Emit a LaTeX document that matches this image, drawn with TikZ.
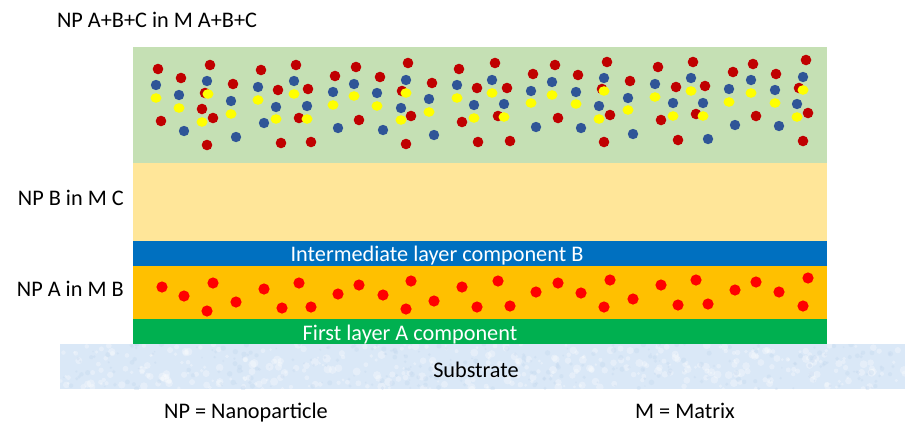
\documentclass[tikz,border=0pt]{standalone}
\usepackage{fontspec}
\setmainfont{Carlito}
\definecolor{topgreen}{HTML}{C5E0B4}
\definecolor{paleyellow}{HTML}{FFE699}
\definecolor{midblue}{HTML}{0070C0}
\definecolor{amber}{HTML}{FFC000}
\definecolor{leafgreen}{HTML}{00B050}
\definecolor{subblue}{HTML}{DAE8F7}
\definecolor{subshade}{HTML}{C3D7EE}
\definecolor{npred}{HTML}{C00000}
\definecolor{npblue}{HTML}{2F5597}
\definecolor{npyellow}{HTML}{FFFF00}
\definecolor{npbright}{HTML}{FF0000}

\begin{document}
\begin{tikzpicture}[x=0.75pt,y=-0.75pt,
                    every node/.style={font=\fontsize{16.7}{20}\selectfont,inner sep=0pt},
                    white text/.style={text=white}]
\useasboundingbox (0,0) rectangle (905,440);

% layers
\fill[topgreen] (133,47) rectangle (827,163);
\fill[paleyellow] (133,163) rectangle (827,241);
\fill[midblue] (133,241) rectangle (827,266);
\fill[amber] (133,266) rectangle (827,319);
\fill[leafgreen] (133,319) rectangle (827,344);

% substrate
\begin{scope}
\clip (60,344) rectangle (905,389);
\fill[subblue] (60,344) rectangle (905,389);
\pgfmathsetseed{7}
\foreach \i in {1,...,380}
  \fill[white,opacity=0.3] ({60+845*rnd},{344+45*rnd}) circle ({1.2+3*rnd});
\foreach \i in {1,...,300}
  \fill[subshade,opacity=0.35] ({60+845*rnd},{344+45*rnd}) circle ({0.8+2*rnd});
\end{scope}

% nanoparticles A+B+C
\foreach \x/\y in {158/69, 181/78, 210/65, 205/93, 202/109, 213/118, 161/121, 207/145,
  233/84, 261/70, 278/90, 296/65, 308/89, 299/118, 281/143, 311/142, 335/76, 356/67,
  380/77, 359/120, 402/91, 408/63, 411/116, 432/83, 406/144, 459/69, 477/88, 462/122,
  478/142, 495/63, 507/88, 498/116, 510/141, 533/74, 555/65, 558/118, 578/75, 607/62,
  602/89, 610/115, 604/142, 630/81, 658/67, 676/87, 693/62, 705/86, 661/120, 696/114,
  678/140, 733/72, 753/64, 776/74, 806/60, 799/88, 756/116, 808/113, 803/141}
  \fill[npred] (\x,\y) circle (5.3);
\foreach \x/\y in {156/85, 179/95, 207/81, 231/101, 184/131, 236/137, 258/87, 276/107,
  294/81, 307/106, 264/123, 333/92, 354/84, 377/93, 338/128, 383/130, 406/80, 401/108,
  429/99, 434/135, 457/85, 474/105, 492/80, 504/104, 531/91, 552/82, 536/127, 576/92,
  581/128, 604/78, 599/106, 628/98, 633/134, 655/84, 673/103, 691/78, 703/103, 708/139,
  729/89, 751/80, 735/125, 775/90, 779/126, 803/77, 797/104}
  \fill[npblue] (\x,\y) circle (5.2);
\foreach \x/\y in {156/98, 179/108, 208/94, 202/122, 231/114, 258/100, 276/119, 294/94,
  307/119, 333/105, 354/96, 377/106, 406/93, 401/120, 429/112, 457/98, 474/118, 492/93,
  504/117, 531/103, 552/95, 576/104, 604/91, 599/119, 628/110, 655/97, 673/116, 691/91,
  703/116, 729/102, 751/93, 775/103, 803/90, 797/117}
  \fill[npyellow] (\x,\y) circle[x radius=5.5,y radius=4.8];

% nanoparticles A
\foreach \x/\y in {162/287, 184/296, 213/283, 207/311, 236/302, 264/289, 299/283, 282/308,
  311/307, 338/294, 359/285, 383/295, 411/281, 406/309, 434/301, 462/287, 477/307,
  498/281, 510/306, 536/292, 558/283, 581/293, 610/280, 604/307, 633/299, 661/285,
  696/280, 678/305, 708/304, 735/290, 756/282, 779/292, 808/278, 803/306}
  \fill[npbright] (\x,\y) circle (5.6);

\node[anchor=base] (titleABC) at (157,27) {NP A+B+C in M A+B+C};
\node[anchor=base east] (labelB) at (124,205) {NP B in M C};
\node[anchor=base east] (labelA) at (124,296) {NP A in M B};
\node[anchor=base,white text] (midlayer) at (437,261) {Intermediate layer component B};
\node[anchor=base,white text] (firstlayer) at (410,340) {First layer A component};
\node[anchor=base] (substrate) at (476,377) {Substrate};
\node[anchor=base] (keyNP) at (246,418) {NP = Nanoparticle};
\node[anchor=base] (keyM) at (685,418) {M = Matrix};
\end{tikzpicture}
\end{document}
